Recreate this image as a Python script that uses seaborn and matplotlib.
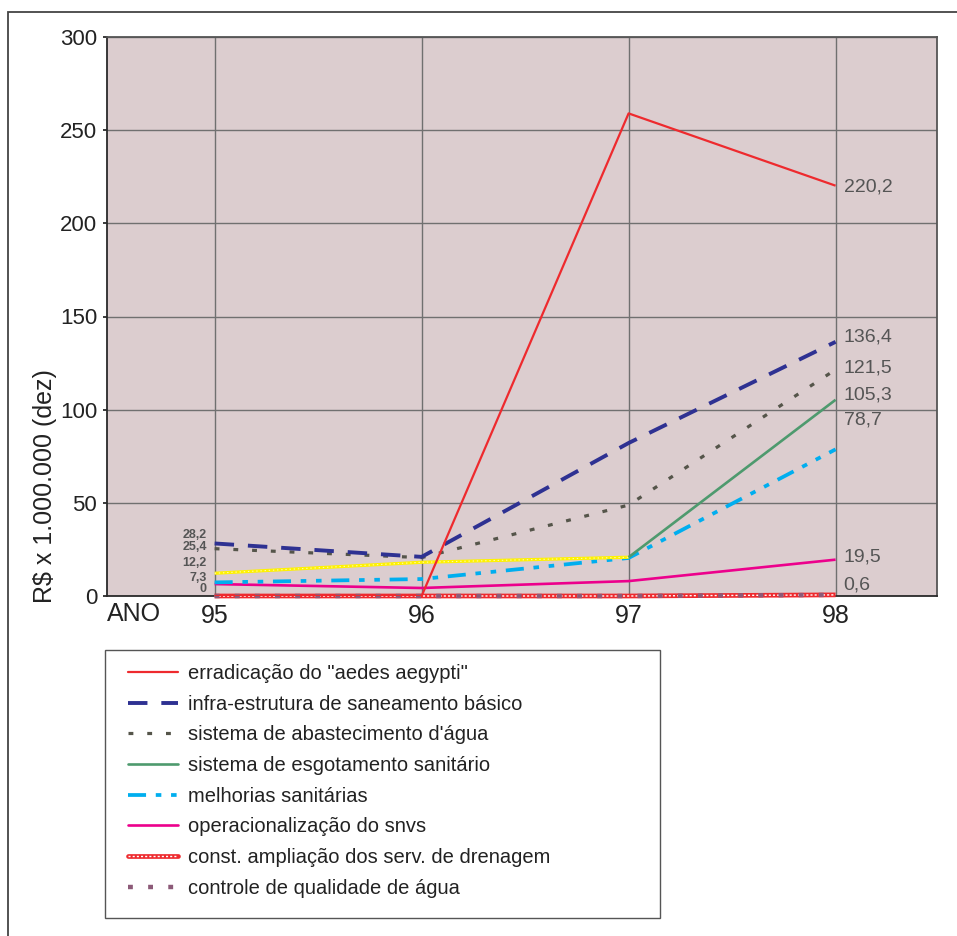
import matplotlib
matplotlib.use("Agg")
import matplotlib.pyplot as plt
from matplotlib.lines import Line2D
from matplotlib.patches import Rectangle
from matplotlib.legend_handler import HandlerTuple
import seaborn as sns

sns.set_theme(style="white")
plt.rcParams["font.family"] = ["Liberation Sans", "DejaVu Sans"]
plt.rcParams["lines.scale_dashes"] = False

anos = [95, 96, 97, 98]
ano_labels = ["95", "96", "97", "98"]

aedes = [0, 0, 259, 220.2]
infra = [28.2, 21.0, 82.1, 136.4]
abastecimento = [25.4, 20.6, 48.8, 121.5]
esgotamento_ini = [12.2, 18.1, 20.8]     # 95-97 trecho
esgotamento_fim = [20.8, 105.3]          # 97-98 trecho
melhorias = [7.3, 9.1, 20.4, 78.7]
snvs = [6.4, 4.3, 8.0, 19.5]
drenagem = [0, 0, 0, 0.6]
qualidade = [0, 0, 0, 0.6]

nomes = [
    'erradicação do "aedes aegypti"',
    "infra-estrutura de saneamento básico",
    "sistema de abastecimento d'água",
    "sistema de esgotamento sanitário",
    "melhorias sanitárias",
    "operacionalização do snvs",
    "const. ampliação dos serv. de drenagem",
    "controle de qualidade de água",
]

rotulos_95 = ["28,2", "25,4", "12,2", "7,3", "0"]
valores_95 = [28.2, 25.4, 12.2, 7.3, 0]
rotulos_98 = ["220,2", "136,4", "121,5", "105,3", "78,7", "19,5", "0,6"]
valores_98 = [220.2, 136.4, 121.5, 105.3, 78.7, 19.5, 0.6]

C_RED = "#ee2a2e"
C_NAVY = "#2e3192"
C_GRAY = "#55554a"
C_GREEN = "#4e9a6e"
C_CYAN = "#00aeef"
C_MAG = "#ec008c"
C_YEL = "#fff200"
C_PURP = "#8c5a78"

W, H = 957, 936
fig = plt.figure(figsize=(W / 100, H / 100), dpi=100)
ax = fig.add_axes([107 / W, 1 - 596 / H, (937 - 107) / W, (596 - 37) / H])
ax.set_facecolor("#dccdcf")

# outer frame
fig.patches.append(Rectangle((8 / W, -0.05), 1.2, 1 - 12 / H + 0.05,
                             transform=fig.transFigure, fill=False,
                             edgecolor="#444444", lw=1.3, zorder=0))


def linha(x, y, color, lw, dashes=None, z=3, clip=True):
    sns.lineplot(x=x, y=y, ax=ax, color=color, linewidth=lw, zorder=z,
                 estimator=None, sort=False)
    ln = ax.lines[-1]
    if dashes is not None:
        ln.set_dashes(dashes)
    ln.set_solid_capstyle("butt")
    ln.set_dash_capstyle("butt")
    ln.set_clip_on(clip)
    return ln


# drainage: red band with white dots, sitting on the baseline
linha(anos, drenagem, C_RED, 3.4, z=3, clip=False)
linha(anos, drenagem, "white", 1.0, dashes=(1.5, 1.5), z=3.1, clip=False)
linha(anos, qualidade, C_PURP, 3.2, dashes=(3.5, 11), z=3.2, clip=False)
linha(anos, snvs, C_MAG, 1.9, z=4)
linha(anos, melhorias, C_CYAN, 2.7, dashes=(13, 7, 4, 7, 4, 7), z=4)
linha(anos[:3], esgotamento_ini, C_YEL, 2.3, z=4)
linha(anos[:3], esgotamento_ini, "#fffbb0", 0.8, dashes=(1, 2), z=4.1)
linha(anos[2:], esgotamento_fim, C_GREEN, 1.9, z=4)
linha(anos, abastecimento, C_GRAY, 2.3, dashes=(3.5, 10), z=5)
linha(anos, infra, C_NAVY, 2.8, dashes=(14, 10), z=5)
linha(anos, aedes, C_RED, 1.6, z=6)

ax.set_xlim(94.48, 98.49)
ax.set_ylim(0, 300)
ax.set_xticks(anos)
ax.set_xticklabels(ano_labels)
ax.set_yticks(range(0, 301, 50))
ax.grid(True, color="#707070", lw=1.0)
ax.set_axisbelow(True)
ax.tick_params(axis="x", length=0, pad=6, labelsize=18, colors="#222222")
ax.tick_params(axis="y", length=3, pad=4, labelsize=16, colors="#222222", direction="out", left=True)
ax.set_xlabel("")
ax.set_ylabel("")
for s in ["left", "bottom"]:
    ax.spines[s].set_color("#2a2a2a")
    ax.spines[s].set_linewidth(1.3)
    ax.spines[s].set_zorder(2.5)
for s in ["top", "right"]:
    ax.spines[s].set_color("#555555")
    ax.spines[s].set_linewidth(1.3)

fig.text(45 / W, 1 - 486 / H, "R$ x 1.000.000 (dez)", rotation=90,
         ha="center", va="center", fontsize=18, color="#222222")
fig.text(107 / W, 1 - 614 / H, "ANO", ha="left", va="center",
         fontsize=18, color="#222222")

# value labels at 95 (stacked, bold)
off_95 = [8.5, 1.5, 10.3, 4.4, 7.0]
for t, v, o in zip(rotulos_95, valores_95, off_95):
    ax.annotate(t, xy=(95, v), xytext=(-8 * 0.72, o * 0.72), textcoords="offset points",
                ha="right", va="center", fontsize=9, fontweight="bold",
                color="#555555", zorder=7)

# value labels at 98
off_98 = [-1, 5, 2, 5, 29, 3, 10]
for t, v, o in zip(rotulos_98, valores_98, off_98):
    ax.annotate(t, xy=(98, v), xytext=(8 * 0.72, o * 0.72), textcoords="offset points",
                ha="left", va="center", fontsize=14, color="#555555", zorder=7)

# legend
handles = [
    Line2D([], [], color=C_RED, lw=1.6),
    Line2D([], [], color=C_NAVY, lw=2.8, dashes=(14, 10)),
    Line2D([], [], color=C_GRAY, lw=2.3, dashes=(3.5, 10)),
    Line2D([], [], color=C_GREEN, lw=1.9),
    Line2D([], [], color=C_CYAN, lw=2.7, dashes=(13, 7, 4, 7, 4, 7)),
    Line2D([], [], color=C_MAG, lw=1.9),
    (Line2D([], [], color=C_RED, lw=3.4),
     Line2D([], [], color="white", lw=1.0, dashes=(1.5, 1.5))),
    Line2D([], [], color=C_PURP, lw=3.2, dashes=(3.5, 11)),
]
fig.patches.append(Rectangle((105 / W, 1 - 918 / H), (660 - 105) / W, (918 - 650) / H,
                             transform=fig.transFigure, fill=True, facecolor="white",
                             edgecolor="#555555", lw=1.0, zorder=1))
leg = fig.legend(handles, nomes, loc="upper left",
                 bbox_to_anchor=(128 / W, 1 - 664 / H), frameon=False,
                 fontsize=14.5, handlelength=2.5, handletextpad=0.5,
                 labelspacing=0.58, borderpad=0, borderaxespad=0,
                 handler_map={tuple: HandlerTuple(ndivide=1)})
for t in leg.get_texts():
    t.set_color("#222222")

fig.savefig("out.png", dpi=100)
